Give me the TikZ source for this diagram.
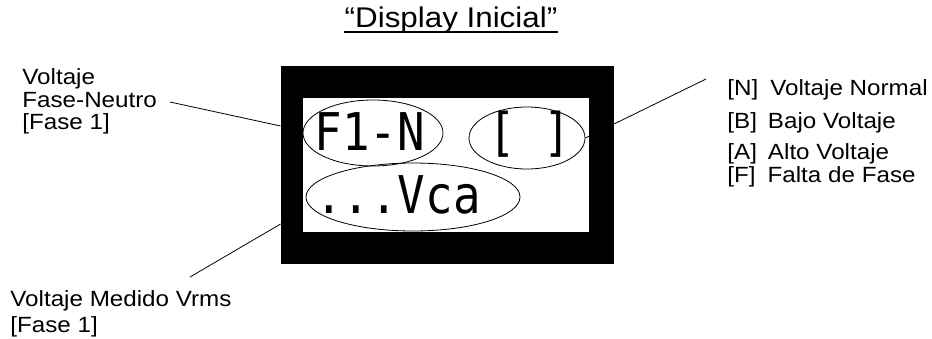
\documentclass[tikz,border=0pt]{standalone}
\usepackage{fontspec}
\setmainfont[FakeStretch=1.1]{Liberation Sans}
\newfontfamily\lcdfont[FakeStretch=0.88]{DejaVu Sans Mono}
\usetikzlibrary{calc,shapes.geometric}
\tikzstyle{etiqueta}=[anchor=base west,inner sep=0pt,font=\fontsize{22}{26}\selectfont]
\tikzstyle{lcd}=[anchor=base,inner sep=0pt,font=\lcdfont\fontsize{52}{60}\selectfont]
\tikzstyle{ovalo}=[ellipse,draw,inner sep=0pt]

\begin{document}
\begin{tikzpicture}[x=1pt,y=-1pt,line width=0.8pt]
  \useasboundingbox (0,0) rectangle (932,338);
  \node[anchor=base,inner sep=0pt,font=\fontsize{28.5}{34}\selectfont] (titulo) at (451,27) {“Display Inicial”};
  \draw[line width=2pt] ($(titulo.base west)+(0,5)$) -- ($(titulo.base east)+(0,5)$);

  \node[fill=black,minimum width=333,minimum height=198,inner sep=0pt] (marco) at (447.5,165) {};
  \node[fill=white,minimum width=286,minimum height=134,inner sep=0pt] (pantalla) at (446,165) {};

  \node[lcd] (fase) at (370,150) {F1-N};
  \node[lcd] (estado) at (530,150) {[ ]};
  \node[lcd] (valor) at (398,213) {...Vca};
  \node[ovalo,minimum width=140,minimum height=66] (ovfase) at (373,133) {};
  \node[ovalo,minimum width=116,minimum height=62] (ovestado) at (527,138) {};
  \node[ovalo,minimum width=214,minimum height=68] (ovvalor) at (413,197) {};

  \node[etiqueta] (fn1) at (22,84) {Voltaje};
  \node[etiqueta] (fn2) at (22,107) {Fase-Neutro};
  \node[etiqueta] (fn3) at (22,129) {[Fase 1]};
  \node[etiqueta] (vm1) at (10,306) {Voltaje Medido Vrms};
  \node[etiqueta] (vm2) at (10,332) {[Fase 1]};

  \node[etiqueta] (edn) at (727,95) {[N]\hspace{12pt}Voltaje Normal};
  \node[etiqueta] (edb) at (727,128) {[B]\hspace{11pt}Bajo Voltaje};
  \node[etiqueta] (eda) at (727,159) {[A]\hspace{11pt}Alto Voltaje};
  \node[etiqueta] (edf) at (727,182) {[F]\hspace{12pt}Falta de Fase};

  \coordinate (c1) at (170,102);
  \coordinate (c2) at (190,277);
  \coordinate (c3) at (706,79);
  \draw (c1) -- (marco.west |- 0,126);
  \draw (marco.west |- 0,224) -- (c2);
  \draw (ovestado.east) -- (c3);
\end{tikzpicture}
\end{document}
